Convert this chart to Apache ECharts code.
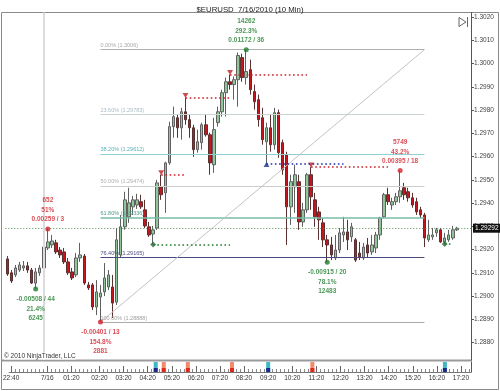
<!DOCTYPE html>
<html><head><meta charset="utf-8">
<script src="https://cdn.jsdelivr.net/npm/echarts@6/dist/echarts.min.js"></script>
<style>html,body{margin:0;padding:0;background:#fff}#c{width:500px;height:391px}</style>
</head><body><div id="c"></div>
<script>
// ---------- DATA ----------
// 10-minute candles: [open, close, low, high]
const candles = [
[1.29160,1.29095,1.29087,1.29172],[1.29100,1.29065,1.29056,1.29112],[1.29091,1.29121,1.29082,1.29134],
[1.29112,1.29134,1.29104,1.29147],[1.29121,1.29130,1.29108,1.29151],[1.29130,1.29112,1.29100,1.29147],
[1.29112,1.29056,1.29052,1.29121],[1.29056,1.29104,1.29030,1.29121],[1.29100,1.29121,1.29087,1.29134],
[1.29121,1.29211,1.29117,1.29242],[1.29207,1.29233,1.29198,1.29289],[1.29220,1.29237,1.29207,1.29263],
[1.29229,1.29190,1.29181,1.29242],[1.29198,1.29177,1.29164,1.29211],[1.29190,1.29147,1.29138,1.29207],
[1.29147,1.29100,1.29091,1.29164],[1.29104,1.29078,1.29069,1.29121],[1.29091,1.29164,1.29082,1.29185],
[1.29164,1.29177,1.29147,1.29229],[1.29172,1.29056,1.29048,1.29181],[1.29048,1.29035,1.29026,1.29061],
[1.29048,1.28953,1.28940,1.29056],[1.28953,1.29018,1.28918,1.29069],[1.28996,1.29013,1.28888,1.29048],
[1.29018,1.29078,1.29000,1.29142],[1.29039,1.29091,1.29026,1.29112],[1.29039,1.28970,1.28906,1.29091],
[1.28974,1.29242,1.28962,1.29293],[1.29177,1.29298,1.29164,1.29349],[1.29298,1.29414,1.29285,1.29449],
[1.29341,1.29401,1.29315,1.29466],[1.29384,1.29414,1.29349,1.29431],[1.29392,1.29414,1.29375,1.29440],
[1.29406,1.29384,1.29375,1.29436],[1.29371,1.29302,1.29293,1.29414],[1.29298,1.29263,1.29255,1.29319],
[1.29267,1.29285,1.29222,1.29302],[1.29293,1.29487,1.29285,1.29500],[1.29470,1.29436,1.29414,1.29522],
[1.29444,1.29573,1.29358,1.29578],[1.29573,1.29729,1.29565,1.29750],[1.29729,1.29772,1.29681,1.29815],
[1.29767,1.29724,1.29681,1.29780],[1.29724,1.29793,1.29673,1.29810],[1.29793,1.29759,1.29737,1.29854],
[1.29759,1.29724,1.29681,1.29780],[1.29724,1.29630,1.29599,1.29737],[1.29630,1.29664,1.29617,1.29716],
[1.29660,1.29737,1.29630,1.29746],[1.29737,1.29694,1.29686,1.29780],[1.29694,1.29573,1.29522,1.29703],
[1.29565,1.29716,1.29530,1.29767],[1.29746,1.29793,1.29729,1.29815],[1.29793,1.29875,1.29772,1.29888],
[1.29875,1.29922,1.29772,1.29940],[1.29922,1.29910,1.29888,1.29953],[1.29910,1.29931,1.29845,1.29945],
[1.29931,1.30035,1.29815,1.30048],[1.30026,1.29940,1.29922,1.30043],[1.29940,1.29966,1.29910,1.30060],
[1.29974,1.29888,1.29867,1.30017],[1.29880,1.29836,1.29802,1.29910],[1.29845,1.29759,1.29729,1.29867],
[1.29767,1.29673,1.29651,1.29810],[1.29664,1.29724,1.29570,1.29746],[1.29724,1.29651,1.29621,1.29780],
[1.29651,1.29789,1.29630,1.29810],[1.29789,1.29617,1.29595,1.29802],[1.29660,1.29543,1.29522,1.29673],
[1.29608,1.29384,1.29220,1.29621],[1.29384,1.29492,1.29306,1.29522],[1.29470,1.29522,1.29358,1.29565],
[1.29492,1.29319,1.29285,1.29522],[1.29319,1.29371,1.29298,1.29401],[1.29371,1.29522,1.29358,1.29530],
[1.29522,1.29427,1.29371,1.29555],[1.29414,1.29341,1.29298,1.29444],[1.29362,1.29328,1.29242,1.29384],
[1.29315,1.29242,1.29211,1.29336],[1.29242,1.29220,1.29145,1.29263],[1.29220,1.29177,1.29155,1.29255],
[1.29164,1.29198,1.29155,1.29263],[1.29198,1.29272,1.29185,1.29293],[1.29263,1.29276,1.29233,1.29341],
[1.29276,1.29242,1.29198,1.29328],[1.29255,1.29298,1.29233,1.29315],[1.29242,1.29155,1.29147,1.29250],
[1.29185,1.29168,1.29155,1.29233],[1.29164,1.29211,1.29155,1.29229],[1.29220,1.29185,1.29168,1.29250],
[1.29190,1.29220,1.29177,1.29263],[1.29207,1.29263,1.29185,1.29276],[1.29263,1.29336,1.29242,1.29341],
[1.29341,1.29436,1.29336,1.29444],[1.29436,1.29406,1.29392,1.29466],[1.29392,1.29406,1.29371,1.29423],
[1.29406,1.29427,1.29392,1.29444],[1.29427,1.29453,1.29401,1.29540],[1.29466,1.29436,1.29414,1.29487],
[1.29449,1.29423,1.29406,1.29466],[1.29423,1.29392,1.29380,1.29444],[1.29406,1.29362,1.29349,1.29423],
[1.29371,1.29349,1.29336,1.29384],[1.29349,1.29250,1.29211,1.29358],[1.29242,1.29263,1.29233,1.29328],
[1.29255,1.29263,1.29242,1.29293],[1.29272,1.29285,1.29255,1.29293],[1.29285,1.29233,1.29229,1.29293],
[1.29233,1.29250,1.29224,1.29272],[1.29242,1.29263,1.29233,1.29285],[1.29250,1.29285,1.29242,1.29302],
[1.29285,1.29292,1.29280,1.29298]
];
const emptySlots = 3;                 // blank bars to the right of the last candle
const tickIndex  = [0, 9, 15, 22, 28, 34, 40, 46, 52, 58, 64, 70, 76, 82, 88, 94, 100, 106, 112];
const tickLabels = ['22:40','7/16','01:20','02:20','03:20','04:20','05:20','06:20','07:20','08:20',
                    '09:20','10:20','11:20','12:20','13:20','14:20','15:20','16:20','17:20'];
const dateSeparatorIndex = 9;
const lastPrice = 1.29292;

// Fibonacci retracement (anchor low -> high)
const fibStartIdx = 23, fibEndIdx = 103;
const fibLow = 1.28888, fibHigh = 1.30060;
const fibLevels = [1.30060, 1.29783, 1.29612, 1.29474, 1.29336, 1.29165, 1.28888];
const fibNames  = ['0.00% (1.3006)','23.60% (1.29783)','38.20% (1.29612)','50.00% (1.29474)',
                   '61.80% (1.29336)','76.40% (1.29165)','100.00% (1.28888)'];

// Swing points with their three text lines
const swingIdx   = [7, 10, 23, 59, 79, 97];
const swingPrice = [1.29030, 1.29289, 1.28888, 1.30060, 1.29145, 1.29540];
const swingSide  = ['low','high','low','high','low','high'];
const swingColorKind = ['g','r','r','g','g','r'];
const swingText  = [
  ['-0.00508 / 44','21.4%','6245'],
  ['652','51%','0.00259 / 3'],
  ['-0.00401 / 13','154.8%','2881'],
  ['14262','292.3%','0.01172 / 36'],
  ['-0.00915 / 20','78.1%','12483'],
  ['5749','43.2%','0.00395 / 18']
];

// Dotted swing-level lines: start index, end index, price, kind
const levelStart = [38, 44, 55, 75, 64, 36, 108];
const levelEnd   = [44, 55, 74, 94, 83, 55, 110];
const levelPrice = [1.29522, 1.29854, 1.29953, 1.29555, 1.29570, 1.29222, 1.29224];
const levelKind  = ['r','r','r','r','b','g','g'];

// Lower panel markers
const markerIdx  = [36, 38, 44, 55, 64, 75, 108];
const markerKind = ['low','high','high','high','low','high','low'];

// ---------- CHART ----------
const F = 'Liberation Sans, Arial, sans-serif';
const nBars = candles.length + emptySlots;
const cats = [];
for (let i = 0; i < nBars; i++) cats.push('b' + i);

const COL = { r:'#cc1f28', g:'#1f7a2a', b:'#1c2fa8' };

const fibStyle = [
  {c:'#b0b0b0', t:'#a8a8a8', w:1},
  {c:'#c8d4d4', t:'#a9bcc4', w:1},
  {c:'#8fd0d0', t:'#5bb0b8', w:1},
  {c:'#cccccc', t:'#b0b0b0', w:1},
  {c:'#78bca8', t:'#4f9c8c', w:1.5},
  {c:'#4a4a80', t:'#4a4a80', w:1},
  {c:'#aaaaaa', t:'#a0a0a0', w:1}
];

const markLines = [];
// current price
markLines.push({ yAxis: lastPrice, lineStyle:{color:'#4f8f4f', width:1, type:[1,2]},
  label:{show:true, position:'end', distance:2, formatter: lastPrice.toFixed(5),
         backgroundColor:'#111', color:'#fff', fontSize:6.5, fontFamily:F, padding:[1,2,1,2]} });
// date separator
markLines.push({ xAxis: dateSeparatorIndex, lineStyle:{color:'#dcdcdc', width:2, type:'solid'}, label:{show:false} });
// fib levels
fibLevels.forEach((p, k) => {
  markLines.push([
    {coord:[fibStartIdx, p], lineStyle:{color:fibStyle[k].c, width:fibStyle[k].w, type:'solid'},
     label:{show:true, position:'insideStartTop', distance:[0,1], formatter:fibNames[k], fontSize:5.5,
            fontFamily:F, color:fibStyle[k].t}},
    {coord:[fibEndIdx, p]}
  ]);
});
// diagonal anchor line
markLines.push([
  {coord:[fibStartIdx, fibLow], lineStyle:{color:'#c4c4c4', width:1, type:'solid'}, label:{show:false}},
  {coord:[fibEndIdx, fibHigh]}
]);
// swing level dotted lines
levelStart.forEach((s, k) => {
  markLines.push([
    {coord:[s, levelPrice[k]], lineStyle:{color:COL[levelKind[k]], width:1.6, type:[1.6,2.6]}, label:{show:false}},
    {coord:[levelEnd[k], levelPrice[k]]}
  ]);
});

const swingData = swingIdx.map((ix, k) => {
  const c = swingColorKind[k] === 'g' ? '#1e7d2c' : '#d3222c';
  const isHigh = swingSide[k] === 'high';
  return {
    value:[ix, swingPrice[k]],
    symbol:'circle', symbolSize:5,
    itemStyle:{color:c},
    label:{show:true, position: isHigh ? 'top' : 'bottom', distance: isHigh ? 2 : 3,
      formatter: swingText[k].join('\n'), color:c, fontSize:6.5, fontWeight:'bold',
      lineHeight:9.5, fontFamily:F, align:'center'}
  };
});

const levelMarkers = levelStart.map((s, k) => {
  const kind = levelKind[k];
  if (kind === 'r') return {value:[s, levelPrice[k]], symbol:'triangle', symbolRotate:180,
      symbolSize:[6,5], symbolOffset:[0,-2], itemStyle:{color:'#c0202a'}};
  if (kind === 'b') return {value:[s, levelPrice[k]], symbol:'triangle',
      symbolSize:[6,5], symbolOffset:[0,1], itemStyle:{color:'#1c2f9a'}};
  return {value:[s, levelPrice[k]], symbol:'diamond', symbolSize:6, itemStyle:{color:'#2f6a3c'}};
});

const mkTop = [], mkBot = [];
for (let i = 0; i < nBars; i++) { mkTop.push('-'); mkBot.push('-'); }
markerIdx.forEach((ix, k) => {
  const low = markerKind[k] === 'low';
  mkTop[ix] = {value:1, itemStyle:{color: low ? '#3fb7c6' : '#f38a6c'}};
  mkBot[ix] = {value:0.4, itemStyle:{color: low ? '#1b2a8a' : '#e2281d'}};
});

const isTick = (i) => tickIndex.indexOf(i) >= 0;

const option = {
  animation:false,
  backgroundColor:'#ffffff',
  title:{text:'$EURUSD  7/16/2010 (10 Min)', left:'center', top:0.5,
    textStyle:{fontSize:7.8, fontWeight:'normal', color:'#222', fontFamily:F}},
  grid:[
    {left:5.3, right:29, top:12.5, height:347.5},
    {left:5.3, right:29, top:362, height:10}
  ],
  xAxis:[
    {type:'category', gridIndex:0, data:cats, show:false},
    {type:'category', gridIndex:1, data:cats,
      axisLine:{show:true, lineStyle:{color:'#777', width:1}},
      axisTick:{show:true, inside:true, length:3, interval:0, alignWithLabel:true, lineStyle:{color:'#888'}},
      axisLabel:{interval:(i)=>isTick(i), formatter:(v,i)=>tickLabels[tickIndex.indexOf(i)] || '',
        fontSize:6.5, color:'#333', margin:3, fontFamily:F}},
    {type:'category', gridIndex:1, data:cats, position:'bottom',
      axisLine:{show:false},
      axisTick:{show:true, inside:true, length:6, interval:(i)=>isTick(i), alignWithLabel:true, lineStyle:{color:'#666'}},
      axisLabel:{show:false}}
  ],
  yAxis:[
    {type:'value', gridIndex:0, position:'right', min:1.28725, max:1.3022, splitNumber:15,
      axisLine:{show:true, lineStyle:{color:'#555'}},
      axisTick:{show:true, length:3, lineStyle:{color:'#555'}},
      axisLabel:{fontSize:6.5, color:'#444', margin:3, fontFamily:F, showMinLabel:false, showMaxLabel:false,
        formatter:(v)=>v.toFixed(4)},
      splitLine:{show:false}},
    {type:'value', gridIndex:1, position:'right', min:0, max:1,
      axisLine:{show:true, lineStyle:{color:'#555'}}, axisTick:{show:false},
      axisLabel:{show:false}, splitLine:{show:false}}
  ],
  series:[
    {type:'line', xAxisIndex:0, yAxisIndex:0, data:[], silent:true, z:1,
      markLine:{silent:true, symbol:'none', animation:false, precision:5, data:markLines}},
    {type:'candlestick', xAxisIndex:0, yAxisIndex:0, data:candles, barWidth:3, z:3,
      itemStyle:{color:'#8fc79b', color0:'#c4161f', borderColor:'#606060', borderColor0:'#5a3030', borderWidth:1}},
    {type:'scatter', xAxisIndex:0, yAxisIndex:0, data:levelMarkers, z:4, silent:true},
    {type:'scatter', xAxisIndex:0, yAxisIndex:0, data:swingData, z:5, silent:true},
    {type:'bar', xAxisIndex:1, yAxisIndex:1, data:mkTop, barWidth:4, barGap:'-100%', silent:true},
    {type:'bar', xAxisIndex:1, yAxisIndex:1, data:mkBot, barWidth:4, barGap:'-100%', silent:true}
  ],
  graphic:[
    {type:'rect', shape:{x:1.5, y:12.5, width:497, height:377}, style:{fill:'none', stroke:'#8a8a8a', lineWidth:1}, silent:true},
    {type:'rect', shape:{x:2, y:359.5, width:470, height:2}, style:{fill:'#9a9a9a'}, silent:true},
    {type:'text', left:4, top:352.5, z:100, style:{text:'© 2010 NinjaTrader, LLC', fontSize:6.5, fill:'#333',
      fontFamily:F, backgroundColor:'#fff'}, silent:true},
    {type:'polygon', shape:{points:[[459,17.5],[459,26.5],[466,22]]}, style:{fill:'none', stroke:'#666', lineWidth:1}, silent:true},
    {type:'line', shape:{x1:467.5, y1:17, x2:467.5, y2:27}, style:{stroke:'#666', lineWidth:1}, silent:true}
  ]
};

const chart = echarts.init(document.getElementById('c'), null, {renderer:'canvas'});
chart.setOption(option);
</script>
</body></html>
